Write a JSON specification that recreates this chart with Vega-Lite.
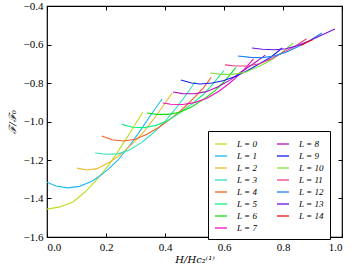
{
  "$schema": "https://vega.github.io/schema/vega-lite/v6.json",
  "width": 295,
  "height": 231,
  "autosize": "none",
  "padding": {"left": 47, "top": 6, "right": 18, "bottom": 33},
  "background": "white",
  "config": {
    "view": {"stroke": "black", "strokeWidth": 1.2},
    "font": "Liberation Serif",
    "axis": {"domain": false, "grid": false, "tickColor": "black", "tickSize": -4, "tickWidth": 1, "labelFont": "Liberation Serif", "labelFontSize": 11, "labelColor": "black", "titleFont": "DejaVu Serif", "titleFontWeight": "normal", "titleFontStyle": "italic", "titleColor": "black", "titleFontSize": 10}
  },
  "data": {"values": [
    {"L":"L = 0","x":0,"y":-1.455},{"L":"L = 0","x":0.04,"y":-1.445},{"L":"L = 0","x":0.088,"y":-1.418},{"L":"L = 0","x":0.13,"y":-1.365},{"L":"L = 0","x":0.173,"y":-1.294},{"L":"L = 0","x":0.21,"y":-1.225},{"L":"L = 0","x":0.237,"y":-1.164},{"L":"L = 0","x":0.26,"y":-1.11},{"L":"L = 0","x":0.281,"y":-1.06},{"L":"L = 0","x":0.305,"y":-1.0},{"L":"L = 0","x":0.325,"y":-0.951},
    {"L":"L = 1","x":0,"y":-1.315},{"L":"L = 1","x":0.03,"y":-1.335},{"L":"L = 1","x":0.07,"y":-1.345},{"L":"L = 1","x":0.11,"y":-1.337},{"L":"L = 1","x":0.15,"y":-1.312},{"L":"L = 1","x":0.173,"y":-1.29},{"L":"L = 1","x":0.21,"y":-1.245},{"L":"L = 1","x":0.241,"y":-1.2},{"L":"L = 1","x":0.28,"y":-1.125},{"L":"L = 1","x":0.315,"y":-1.05},{"L":"L = 1","x":0.35,"y":-0.97},{"L":"L = 1","x":0.39,"y":-0.883},
    {"L":"L = 2","x":0.102,"y":-1.242},{"L":"L = 2","x":0.136,"y":-1.252},{"L":"L = 2","x":0.17,"y":-1.245},{"L":"L = 2","x":0.214,"y":-1.21},{"L":"L = 2","x":0.25,"y":-1.17},{"L":"L = 2","x":0.29,"y":-1.115},{"L":"L = 2","x":0.33,"y":-1.05},{"L":"L = 2","x":0.37,"y":-0.97},{"L":"L = 2","x":0.4,"y":-0.905},{"L":"L = 2","x":0.424,"y":-0.852},
    {"L":"L = 3","x":0.163,"y":-1.164},{"L":"L = 3","x":0.2,"y":-1.17},{"L":"L = 3","x":0.24,"y":-1.168},{"L":"L = 3","x":0.28,"y":-1.148},{"L":"L = 3","x":0.32,"y":-1.11},{"L":"L = 3","x":0.36,"y":-1.06},{"L":"L = 3","x":0.4,"y":-1.0},{"L":"L = 3","x":0.44,"y":-0.925},{"L":"L = 3","x":0.47,"y":-0.865},{"L":"L = 3","x":0.502,"y":-0.795},
    {"L":"L = 4","x":0.186,"y":-1.075},{"L":"L = 4","x":0.22,"y":-1.095},{"L":"L = 4","x":0.258,"y":-1.101},{"L":"L = 4","x":0.3,"y":-1.092},{"L":"L = 4","x":0.34,"y":-1.065},{"L":"L = 4","x":0.38,"y":-1.03},{"L":"L = 4","x":0.42,"y":-0.985},{"L":"L = 4","x":0.46,"y":-0.935},{"L":"L = 4","x":0.5,"y":-0.875},{"L":"L = 4","x":0.53,"y":-0.825},{"L":"L = 4","x":0.557,"y":-0.77},
    {"L":"L = 5","x":0.254,"y":-1.015},{"L":"L = 5","x":0.29,"y":-1.03},{"L":"L = 5","x":0.33,"y":-1.032},{"L":"L = 5","x":0.37,"y":-1.02},{"L":"L = 5","x":0.41,"y":-0.995},{"L":"L = 5","x":0.45,"y":-0.955},{"L":"L = 5","x":0.49,"y":-0.91},{"L":"L = 5","x":0.53,"y":-0.86},{"L":"L = 5","x":0.565,"y":-0.8},{"L":"L = 5","x":0.6,"y":-0.735},
    {"L":"L = 6","x":0.339,"y":-0.956},{"L":"L = 6","x":0.37,"y":-0.963},{"L":"L = 6","x":0.41,"y":-0.963},{"L":"L = 6","x":0.45,"y":-0.952},{"L":"L = 6","x":0.49,"y":-0.925},{"L":"L = 6","x":0.53,"y":-0.885},{"L":"L = 6","x":0.57,"y":-0.84},{"L":"L = 6","x":0.605,"y":-0.785},{"L":"L = 6","x":0.64,"y":-0.72},
    {"L":"L = 7","x":0.393,"y":-0.904},{"L":"L = 7","x":0.42,"y":-0.91},{"L":"L = 7","x":0.46,"y":-0.912},{"L":"L = 7","x":0.5,"y":-0.902},{"L":"L = 7","x":0.54,"y":-0.88},{"L":"L = 7","x":0.58,"y":-0.845},{"L":"L = 7","x":0.62,"y":-0.8},{"L":"L = 7","x":0.66,"y":-0.745},{"L":"L = 7","x":0.7,"y":-0.675},
    {"L":"L = 8","x":0.427,"y":-0.847},{"L":"L = 8","x":0.46,"y":-0.855},{"L":"L = 8","x":0.5,"y":-0.856},{"L":"L = 8","x":0.54,"y":-0.845},{"L":"L = 8","x":0.58,"y":-0.82},{"L":"L = 8","x":0.62,"y":-0.785},{"L":"L = 8","x":0.66,"y":-0.74},{"L":"L = 8","x":0.7,"y":-0.7},{"L":"L = 8","x":0.74,"y":-0.655},
    {"L":"L = 9","x":0.454,"y":-0.784},{"L":"L = 9","x":0.49,"y":-0.8},{"L":"L = 9","x":0.519,"y":-0.805},{"L":"L = 9","x":0.56,"y":-0.8},{"L":"L = 9","x":0.6,"y":-0.787},{"L":"L = 9","x":0.64,"y":-0.765},{"L":"L = 9","x":0.68,"y":-0.735},{"L":"L = 9","x":0.72,"y":-0.7},{"L":"L = 9","x":0.76,"y":-0.665},{"L":"L = 9","x":0.797,"y":-0.618},
    {"L":"L = 10","x":0.553,"y":-0.748},{"L":"L = 10","x":0.59,"y":-0.755},{"L":"L = 10","x":0.63,"y":-0.755},{"L":"L = 10","x":0.67,"y":-0.745},{"L":"L = 10","x":0.71,"y":-0.72},{"L":"L = 10","x":0.75,"y":-0.69},{"L":"L = 10","x":0.79,"y":-0.65},{"L":"L = 10","x":0.834,"y":-0.592},
    {"L":"L = 11","x":0.603,"y":-0.706},{"L":"L = 11","x":0.64,"y":-0.712},{"L":"L = 11","x":0.68,"y":-0.712},{"L":"L = 11","x":0.72,"y":-0.7},{"L":"L = 11","x":0.76,"y":-0.675},{"L":"L = 11","x":0.8,"y":-0.64},{"L":"L = 11","x":0.84,"y":-0.61},{"L":"L = 11","x":0.88,"y":-0.57},
    {"L":"L = 12","x":0.647,"y":-0.66},{"L":"L = 12","x":0.69,"y":-0.667},{"L":"L = 12","x":0.73,"y":-0.668},{"L":"L = 12","x":0.77,"y":-0.66},{"L":"L = 12","x":0.81,"y":-0.64},{"L":"L = 12","x":0.85,"y":-0.612},{"L":"L = 12","x":0.89,"y":-0.58},{"L":"L = 12","x":0.932,"y":-0.54},
    {"L":"L = 13","x":0.695,"y":-0.618},{"L":"L = 13","x":0.73,"y":-0.625},{"L":"L = 13","x":0.77,"y":-0.627},{"L":"L = 13","x":0.81,"y":-0.622},{"L":"L = 13","x":0.85,"y":-0.605},{"L":"L = 13","x":0.89,"y":-0.58},{"L":"L = 13","x":0.93,"y":-0.552},{"L":"L = 13","x":0.976,"y":-0.52},
    {"L":"L = 14","x":0.86,"y":-0.605},{"L":"L = 14","x":0.88,"y":-0.59},{"L":"L = 14","x":0.9,"y":-0.575}
  ]},
  "resolve": {"axis": {"x": "independent", "y": "independent"}},
  "layer": [
    {
      "mark": {"type": "line", "strokeWidth": 1.1, "clip": true},
      "encoding": {
        "x": {"field": "x", "type": "quantitative", "scale": {"domain": [0, 1], "nice": false, "zero": false},
              "axis": {"values": [0, 0.2, 0.4, 0.6, 0.8, 1.0], "format": ".1f", "labelPadding": 8, "title": "H/Hc₂⁽¹⁾", "titlePadding": 2}},
        "y": {"field": "y", "type": "quantitative", "scale": {"domain": [-1.6, -0.4], "nice": false, "zero": false},
              "axis": {"values": [-1.6, -1.4, -1.2, -1.0, -0.8, -0.6, -0.4], "format": ".1f", "labelPadding": 8, "title": "ℱ/ℱ₀", "titlePadding": 6}},
        "color": {"field": "L", "type": "nominal",
          "scale": {
            "domain": ["L = 0","L = 1","L = 2","L = 3","L = 4","L = 5","L = 6","L = 7","L = 8","L = 9","L = 10","L = 11","L = 12","L = 13","L = 14"],
            "range": ["#b8e01e","#1ab8f0","#f0b830","#30e0c0","#f06020","#10f080","#10e010","#f010c0","#b010c0","#1020f0","#80e040","#f04080","#2080f0","#7010e0","#f01010"]
          },
          "legend": {"orient": "none", "legendX": 161, "legendY": 125, "columns": 2, "direction": "vertical", "title": null, "symbolType": "stroke", "symbolSize": 144, "symbolStrokeWidth": 1.3, "strokeColor": "black", "fillColor": "white", "padding": 6, "rowPadding": 0, "columnPadding": 16, "labelFont": "Liberation Serif", "labelFontStyle": "italic", "labelFontSize": 9, "labelColor": "black", "labelOffset": 9, "cornerRadius": 0}
        }
      }
    },
    {
      "mark": {"type": "line", "opacity": 0},
      "encoding": {
        "x": {"field": "x", "type": "quantitative", "scale": {"domain": [0, 1], "nice": false, "zero": false},
              "axis": {"orient": "top", "values": [0, 0.2, 0.4, 0.6, 0.8, 1.0], "labels": false, "title": null}},
        "y": {"field": "y", "type": "quantitative", "scale": {"domain": [-1.6, -0.4], "nice": false, "zero": false},
              "axis": {"orient": "right", "values": [-1.6, -1.4, -1.2, -1.0, -0.8, -0.6, -0.4], "labels": false, "title": null}},
        "detail": {"field": "L"}
      }
    }
  ]
}
